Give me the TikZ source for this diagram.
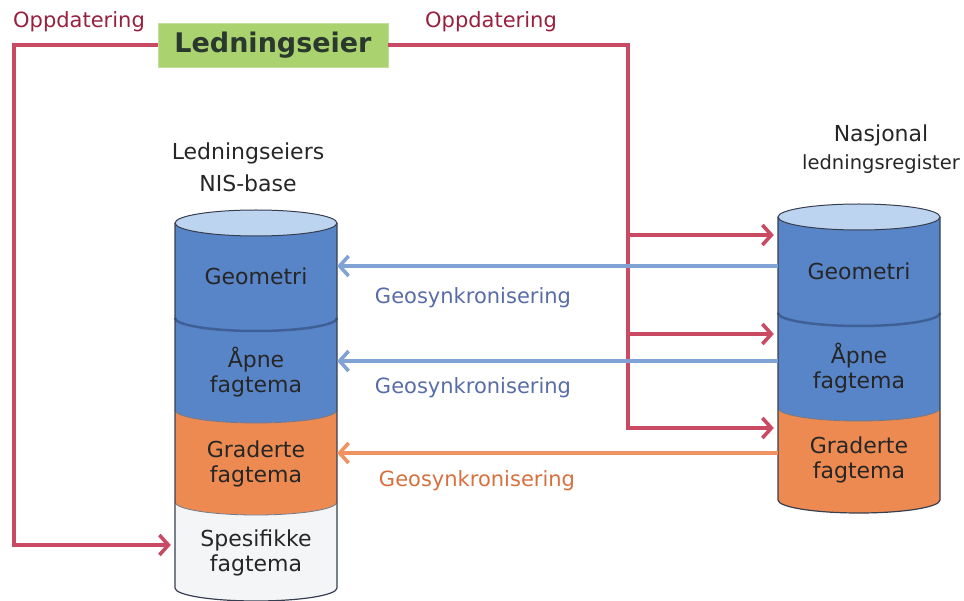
\documentclass[tikz,border=0pt]{standalone}
\usepackage{xcolor}
\usepackage{fontspec}
\setmainfont{DejaVu Sans}
\usepackage{tikz}
\usetikzlibrary{arrows.meta, positioning}

\definecolor{cylblue}{RGB}{88,133,200}
\definecolor{cyltop}{RGB}{188,212,240}
\definecolor{cylorange}{RGB}{237,138,82}
\definecolor{cylwhite}{RGB}{244,245,247}
\definecolor{cyledge}{RGB}{55,62,80}
\definecolor{divblue}{RGB}{62,96,150}
\definecolor{updred}{RGB}{202,74,100}
\definecolor{updtext}{RGB}{150,32,62}
\definecolor{syncblue}{RGB}{128,162,212}
\definecolor{synctext}{RGB}{88,108,168}
\definecolor{syncorange}{RGB}{240,146,98}
\definecolor{orangetext}{RGB}{214,112,62}
\definecolor{eiergreen}{RGB}{170,211,112}
\definecolor{eiertext}{RGB}{42,56,46}

% one coloured band of a cylinder: centre x, top y, bottom y (picture pixels), colour
\newcommand{\drumpart}[4]{%
  \fill[#4] ({#1-81},{-#2}) arc[start angle=180, end angle=360, x radius=81pt, y radius=13pt]
    -- ({#1+81},{-#3}) arc[start angle=360, end angle=180, x radius=81pt, y radius=13pt] -- cycle;}

\begin{document}
\begin{tikzpicture}[x=1pt, y=1pt, every node/.style={font=\fontsize{22}{25}\selectfont}]
    % Define styles
    \tikzstyle{ownerbox} = [rectangle, minimum width=230pt, minimum height=44pt, text centered, fill=eiergreen, draw=eiergreen!70!white, text=eiertext, font=\fontsize{27}{30}\selectfont\bfseries]
    \tikzstyle{layer} = [rectangle, minimum width=162pt, inner sep=0pt, align=center, text=black!85]
    \tikzstyle{title} = [align=center, text=black!85]
    \tikzstyle{updlabel} = [text=updtext, font=\fontsize{21}{24}\selectfont]
    \tikzstyle{synclabel} = [text=synctext, font=\fontsize{21}{24}\selectfont]
    \tikzstyle{update} = [line width=3.6pt, draw=updred, -{Straight Barb[length=9pt, width=20pt]}]
    \tikzstyle{syncarrow} = [line width=3.6pt, draw=syncblue, -{Straight Barb[length=9pt, width=20pt]}]

    \useasboundingbox (0,0) rectangle (964,-601);

    % Left cylinder: Ledningseiers NIS-base
    \drumpart{256}{223}{318}{cylblue}
    \drumpart{256}{318}{410}{cylblue}
    \drumpart{256}{410}{502}{cylorange}
    \drumpart{256}{502}{588}{cylwhite}
    \filldraw[fill=cyltop, draw=cyledge, line width=1pt] (256,-223) ellipse [x radius=81pt, y radius=13pt];
    \draw[divblue, line width=2.5pt] (175,-318) arc[start angle=180, end angle=360, x radius=81pt, y radius=13pt];
    \draw[cyledge!70, line width=0.8pt] (175,-410) arc[start angle=180, end angle=360, x radius=81pt, y radius=13pt];
    \draw[cyledge!70, line width=0.8pt] (175,-502) arc[start angle=180, end angle=360, x radius=81pt, y radius=13pt];
    \draw[cyledge, line width=1.2pt] (175,-223) -- (175,-588) arc[start angle=180, end angle=360, x radius=81pt, y radius=13pt] -- (337,-223);

    % Right cylinder: Nasjonal ledningsregister
    \drumpart{859}{217}{313}{cylblue}
    \drumpart{859}{313}{408}{cylblue}
    \drumpart{859}{408}{500}{cylorange}
    \filldraw[fill=cyltop, draw=cyledge, line width=1pt] (859,-217) ellipse [x radius=81pt, y radius=13pt];
    \draw[divblue, line width=2.5pt] (778,-313) arc[start angle=180, end angle=360, x radius=81pt, y radius=13pt];
    \draw[cyledge!70, line width=0.8pt] (778,-408) arc[start angle=180, end angle=360, x radius=81pt, y radius=13pt];
    \draw[cyledge, line width=1.2pt] (778,-217) -- (778,-500) arc[start angle=180, end angle=360, x radius=81pt, y radius=13pt] -- (940,-217);

    % Owner and titles
    \node (eier) [ownerbox] at (273,-45) {Ledningseier};
    \node (oppl) [updlabel] at (79,-22) {Oppdatering};
    \node (oppr) [updlabel] at (491,-22) {Oppdatering};
    \node (nistitle) [title, font=\fontsize{22}{32}\selectfont] at (248,-167) {Ledningseiers\\NIS-base};
    \node (regtitle) [title, font=\fontsize{19.5}{28}\selectfont] at (881,-149) {{\fontsize{22}{28}\selectfont Nasjonal}\\ledningsregister};

    % Layers of the NIS-base
    \node (lgeo) [layer] at (256,-276) {Geometri};
    \node (lapne) [layer] at (256,-372) {Åpne\\fagtema};
    \node (lgrad) [layer] at (256,-464) {Graderte\\fagtema};
    \node (lspes) [layer] at (256,-553) {Spesifikke\\fagtema};

    % Layers of the register
    \node (rgeo) [layer] at (859,-271) {Geometri};
    \node (rapne) [layer] at (859,-368) {Åpne\\fagtema};
    \node (rgrad) [layer] at (859,-460) {Graderte\\fagtema};

    % Update lines from the owner
    \coordinate (lcorner) at (14,-45);
    \coordinate (rtop) at (628,-45);
    \draw [update, shorten >=4pt] (eier.west) -- (lcorner) |- ([yshift=8pt]lspes.west);
    \draw [update, shorten >=4pt] (eier.east) -- (rtop) |- ([yshift=32pt]rgrad.west);
    \draw [update, shorten >=4pt] ([yshift=36pt]rgeo.west -| rtop) -- ([yshift=36pt]rgeo.west);
    \draw [update, shorten >=4pt] ([yshift=34pt]rapne.west -| rtop) -- ([yshift=34pt]rapne.west);

    % Geosynkronisering arrows
    \draw [syncarrow] ([yshift=5pt]rgeo.west) -- ([yshift=5pt]rgeo.west -| lgeo.east);
    \draw [syncarrow] ([yshift=7pt]rapne.west) -- ([yshift=7pt]rapne.west -| lapne.east);
    \draw [syncarrow, draw=syncorange] ([yshift=7pt]rgrad.west) -- ([yshift=7pt]rgrad.west -| lgrad.east);

    \node (syncgeo) [synclabel] at (473,-298) {Geosynkronisering};
    \node (syncapne) [synclabel] at (473,-388) {Geosynkronisering};
    \node (syncgrad) [synclabel, text=orangetext] at (477,-481) {Geosynkronisering};
\end{tikzpicture}
\end{document}
